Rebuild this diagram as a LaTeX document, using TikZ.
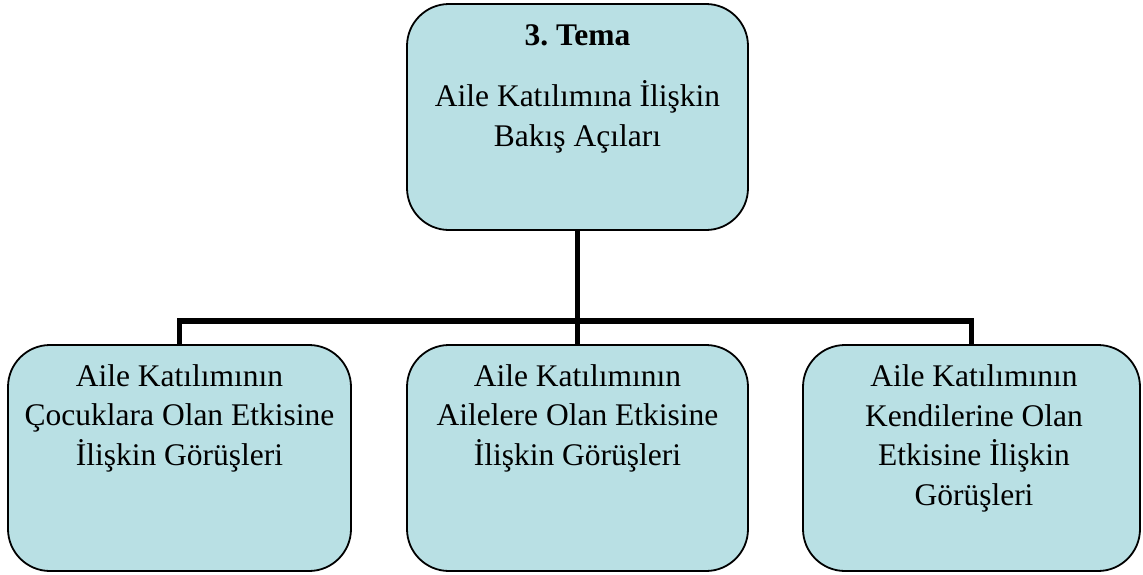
\documentclass[tikz,border=0pt]{standalone}
\usepackage{fontspec}
\setmainfont{Liberation Serif}
\definecolor{boxfill}{RGB}{185,224,228}
\begin{document}
\begin{tikzpicture}[x=1pt,y=-1pt,
  box/.style={draw=black,line width=1.8pt,fill=boxfill,rounded corners=42pt,
    minimum width=#1,minimum height=226pt,inner sep=0pt},
  conn/.style={line width=5.5pt,draw=black},
  txt/.style={anchor=base,inner sep=0pt,font=\fontsize{31.5}{39.5}\selectfont}]
\useasboundingbox (0,0) rectangle (1143,574);
\node[box=341pt] (top) at (577.5,117) {};
\node[box=343pt] (left) at (179.5,458) {};
\node[box=341pt] (mid) at (577.5,458) {};
\node[box=337pt] (right) at (971.5,458) {};
\coordinate (j) at (577.5,321);
\draw[conn] (top.south) -- (j);
\draw[conn] (left.north) |- (j) -| (right.north);
\draw[conn] (j) -- (mid.north);
\node[txt,font=\fontsize{31.5}{39.5}\selectfont\bfseries] (tema) at (577.5,45) {3.\ Tema};
\node[txt] (toptext) at (577.5,106.5) {\begin{tabular}[t]{@{}c@{}}Aile Katılımına İlişkin\\Bakış Açıları\end{tabular}};
\node[txt] (lefttext) at (179.5,386) {\begin{tabular}[t]{@{}c@{}}Aile Katılımının\\Çocuklara Olan Etkisine\\İlişkin Görüşleri\end{tabular}};
\node[txt] (midtext) at (577.5,386) {\begin{tabular}[t]{@{}c@{}}Aile Katılımının\\Ailelere Olan Etkisine\\İlişkin Görüşleri\end{tabular}};
\node[txt] (righttext) at (974,386.5) {\begin{tabular}[t]{@{}c@{}}Aile Katılımının\\Kendilerine Olan\\Etkisine İlişkin\\Görüşleri\end{tabular}};
\end{tikzpicture}
\end{document}
